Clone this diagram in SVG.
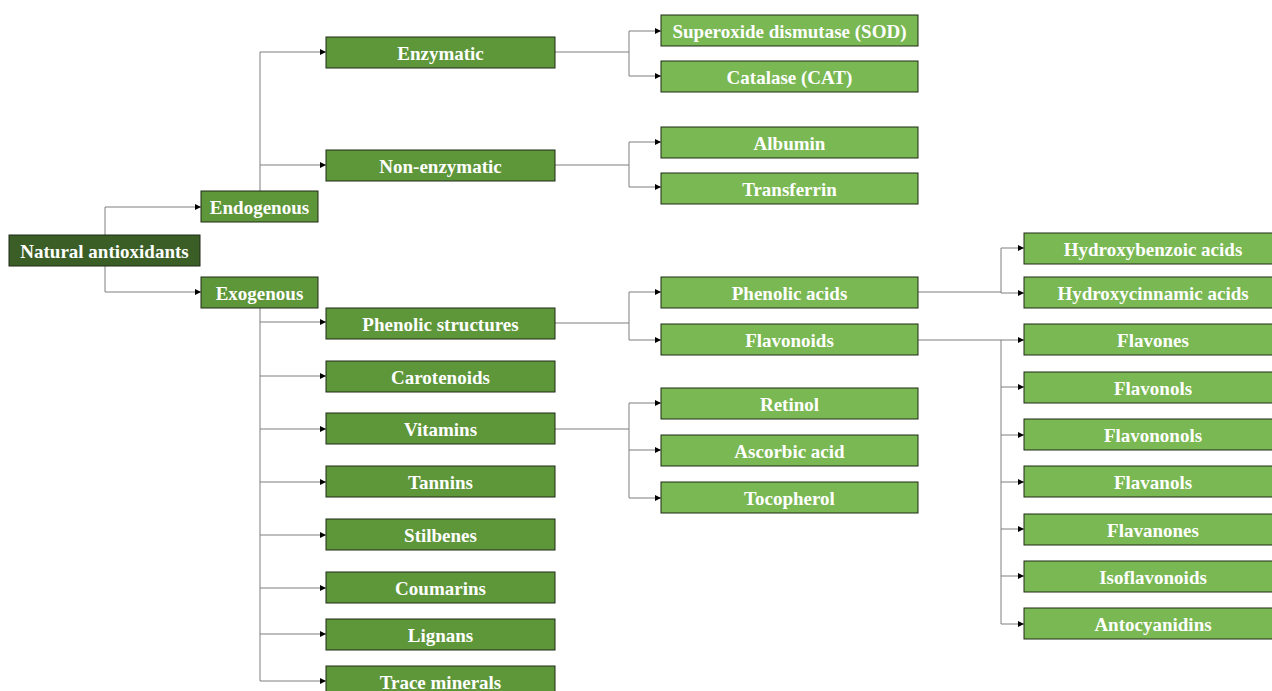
<svg xmlns="http://www.w3.org/2000/svg" width="1272" height="691" viewBox="0 0 1272 691">
<defs>
<marker id="arr" viewBox="0 0 10 10" refX="10" refY="5" markerWidth="6" markerHeight="6" markerUnits="userSpaceOnUse" orient="auto">
<path d="M0,0 L10,5 L0,10 z" fill="#000"/>
</marker>
<style>
.n rect{stroke:#1e2a16;stroke-width:1}
.d rect{fill:#3b5e27}
.m rect{fill:#5e963a}
.l rect{fill:#7ab853}
.n text{font-family:"Liberation Serif","Times New Roman",serif;font-weight:bold;font-size:19px;fill:#fff;text-anchor:middle;dominant-baseline:central}
.c path{fill:none;stroke:#7f7f7f;stroke-width:1}
.c path.a{marker-end:url(#arr)}
</style>
</defs>
<rect width="1272" height="691" fill="#fff"/>
<g class="c" id="connectors">
<path d="M105,235 V207"/><path class="a" d="M105,207 H201"/>
<path d="M105,266 V292"/><path class="a" d="M105,292 H201"/>
<path d="M260,191 V52"/><path class="a" d="M260,52 H326"/><path class="a" d="M260,165 H326"/>
<path d="M260,308 V681"/>
<path class="a" d="M260,322 H326"/><path class="a" d="M260,376 H326"/><path class="a" d="M260,429 H326"/><path class="a" d="M260,482 H326"/><path class="a" d="M260,535 H326"/><path class="a" d="M260,588 H326"/><path class="a" d="M260,634 H326"/><path class="a" d="M260,681 H326"/>
<path d="M555,52 H629"/><path d="M629,31 V76"/><path class="a" d="M629,31 H661"/><path class="a" d="M629,76 H661"/>
<path d="M555,165 H629"/><path d="M629,142 V187"/><path class="a" d="M629,142 H661"/><path class="a" d="M629,187 H661"/>
<path d="M555,323 H629"/><path d="M629,292 V340"/><path class="a" d="M629,292 H661"/><path class="a" d="M629,340 H661"/>
<path d="M555,429 H629"/><path d="M629,403 V498"/><path class="a" d="M629,403 H661"/><path class="a" d="M629,450 H661"/><path class="a" d="M629,498 H661"/>
<path d="M918,292 H1001"/><path d="M1001,248 V293"/><path class="a" d="M1001,248 H1024"/><path class="a" d="M1001,293 H1024"/>
<path d="M918,340 H1001"/><path d="M1001,340 V624"/>
<path class="a" d="M1001,340 H1024"/><path class="a" d="M1001,387 H1024"/><path class="a" d="M1001,435 H1024"/><path class="a" d="M1001,482 H1024"/><path class="a" d="M1001,529 H1024"/><path class="a" d="M1001,576 H1024"/><path class="a" d="M1001,624 H1024"/>
</g>
<g id="natural" class="n d"><rect x="9" y="235" width="191" height="31"/><text x="104.5" y="251">Natural antioxidants</text></g>
<g id="endogenous" class="n m"><rect x="201" y="191" width="117" height="31"/><text x="259.5" y="207">Endogenous</text></g>
<g id="exogenous" class="n m"><rect x="201" y="277" width="117" height="31"/><text x="259.5" y="293">Exogenous</text></g>
<g id="enzymatic" class="n m"><rect x="326" y="37" width="229" height="31"/><text x="440.5" y="53">Enzymatic</text></g>
<g id="nonenzymatic" class="n m"><rect x="326" y="150" width="229" height="31"/><text x="440.5" y="166">Non-enzymatic</text></g>
<g id="phenolic-structures" class="n m"><rect x="326" y="308" width="229" height="31"/><text x="440.5" y="324">Phenolic structures</text></g>
<g id="carotenoids" class="n m"><rect x="326" y="361" width="229" height="31"/><text x="440.5" y="377">Carotenoids</text></g>
<g id="vitamins" class="n m"><rect x="326" y="413" width="229" height="31"/><text x="440.5" y="429">Vitamins</text></g>
<g id="tannins" class="n m"><rect x="326" y="466" width="229" height="31"/><text x="440.5" y="482">Tannins</text></g>
<g id="stilbenes" class="n m"><rect x="326" y="519" width="229" height="31"/><text x="440.5" y="535">Stilbenes</text></g>
<g id="coumarins" class="n m"><rect x="326" y="572" width="229" height="31"/><text x="440.5" y="588">Coumarins</text></g>
<g id="lignans" class="n m"><rect x="326" y="619" width="229" height="31"/><text x="440.5" y="635">Lignans</text></g>
<g id="trace-minerals" class="n m"><rect x="326" y="666" width="229" height="31"/><text x="440.5" y="682">Trace minerals</text></g>
<g id="sod" class="n l"><rect x="661" y="15" width="257" height="31"/><text x="789.5" y="31">Superoxide dismutase (SOD)</text></g>
<g id="cat" class="n l"><rect x="661" y="61" width="257" height="31"/><text x="789.5" y="77">Catalase (CAT)</text></g>
<g id="albumin" class="n l"><rect x="661" y="127" width="257" height="31"/><text x="789.5" y="143">Albumin</text></g>
<g id="transferrin" class="n l"><rect x="661" y="173" width="257" height="31"/><text x="789.5" y="189">Transferrin</text></g>
<g id="phenolic-acids" class="n l"><rect x="661" y="277" width="257" height="31"/><text x="789.5" y="293">Phenolic acids</text></g>
<g id="flavonoids" class="n l"><rect x="661" y="324" width="257" height="31"/><text x="789.5" y="340">Flavonoids</text></g>
<g id="retinol" class="n l"><rect x="661" y="388" width="257" height="31"/><text x="789.5" y="404">Retinol</text></g>
<g id="ascorbic" class="n l"><rect x="661" y="435" width="257" height="31"/><text x="789.5" y="451">Ascorbic acid</text></g>
<g id="tocopherol" class="n l"><rect x="661" y="482" width="257" height="31"/><text x="789.5" y="498">Tocopherol</text></g>
<g id="hydroxybenzoic" class="n l"><rect x="1024" y="233" width="252" height="31"/><text x="1153" y="249">Hydroxybenzoic acids</text></g>
<g id="hydroxycinnamic" class="n l"><rect x="1024" y="277" width="252" height="31"/><text x="1153" y="293">Hydroxycinnamic acids</text></g>
<g id="flavones" class="n l"><rect x="1024" y="324" width="252" height="31"/><text x="1153" y="340">Flavones</text></g>
<g id="flavonols" class="n l"><rect x="1024" y="372" width="252" height="31"/><text x="1153" y="388">Flavonols</text></g>
<g id="flavononols" class="n l"><rect x="1024" y="419" width="252" height="31"/><text x="1153" y="435">Flavononols</text></g>
<g id="flavanols" class="n l"><rect x="1024" y="466" width="252" height="31"/><text x="1153" y="482">Flavanols</text></g>
<g id="flavanones" class="n l"><rect x="1024" y="514" width="252" height="31"/><text x="1153" y="530">Flavanones</text></g>
<g id="isoflavonoids" class="n l"><rect x="1024" y="561" width="252" height="31"/><text x="1153" y="577">Isoflavonoids</text></g>
<g id="antocyanidins" class="n l"><rect x="1024" y="608" width="252" height="31"/><text x="1153" y="624">Antocyanidins</text></g>
</svg>
